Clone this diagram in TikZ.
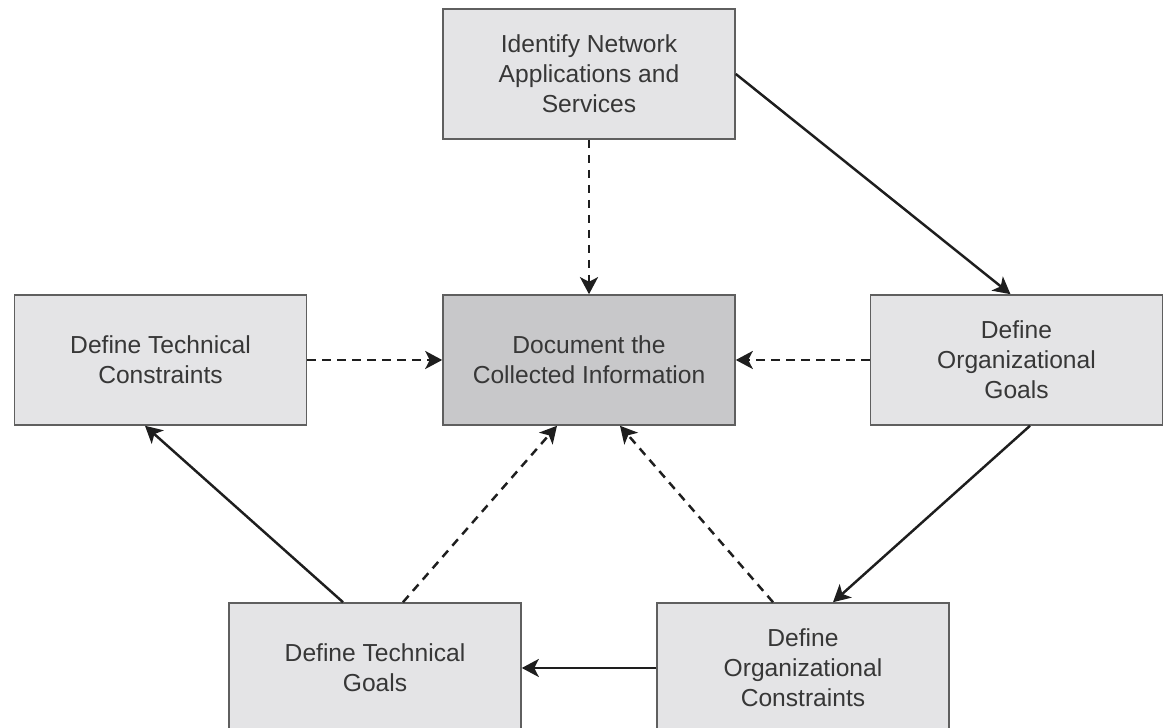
\documentclass[tikz,border=0pt]{standalone}
\usepackage{fontspec}
\setmainfont{Liberation Sans}
\usetikzlibrary{positioning,arrows.meta}

\definecolor{boxfill}{RGB}{228,228,230}
\definecolor{mainfill}{RGB}{200,200,202}
\definecolor{boxline}{RGB}{95,95,95}
\definecolor{textgray}{RGB}{55,55,55}
\definecolor{arrowgray}{RGB}{30,30,30}

\begin{document}
\begin{tikzpicture}[
    every node/.style={font=\fontsize{14}{17}\selectfont, text=textgray},
    stagebox/.style={draw=boxline, line width=0.9pt, fill=boxfill, align=center,
        minimum width=5.84cm, minimum height=2.6cm, inner sep=0pt},
    mainbox/.style={stagebox, fill=mainfill},
    flow/.style={draw=arrowgray, line width=1.4pt, -{Stealth[length=3.4mm, width=3.6mm, inset=0.9mm]}},
    feed/.style={flow, dash pattern=on 0.17cm off 0.13cm}
]
\useasboundingbox (0,0) rectangle (23.26,14.56);

% === Boxes ===
\node[stagebox] (apps) at (11.78,13.08) {Identify Network\\Applications and\\Services};
\node[mainbox] (doc) at (11.78,7.36) {Document the\\Collected Information};
\node[stagebox] (techcon) at (3.21,7.36) {Define Technical\\Constraints};
\node[stagebox] (orggoals) at (20.33,7.36) {Define\\Organizational\\Goals};
\node[stagebox] (techgoals) at (7.5,1.2) {Define Technical\\Goals};
\node[stagebox] (orgcon) at (16.06,1.2) {Define\\Organizational\\Constraints};

% === Solid cycle ===
\draw[flow] (apps.east) -- ([xshift=-0.12cm]orggoals.north);
\draw[flow] ([xshift=0.27cm]orggoals.south) -- ([xshift=0.6cm]orgcon.north);
\draw[flow] (orgcon.west) -- (techgoals.east);
\draw[flow] ([xshift=-0.64cm]techgoals.north) -- ([xshift=-0.31cm]techcon.south);

% === Dashed inputs to the document box ===
\draw[feed] (apps.south) -- (doc.north);
\draw[feed] (techcon.east) -- (doc.west);
\draw[feed] (orggoals.west) -- (doc.east);
\draw[feed] ([xshift=0.56cm]techgoals.north) -- ([xshift=-0.64cm]doc.south);
\draw[feed] ([xshift=-0.6cm]orgcon.north) -- ([xshift=0.62cm]doc.south);

\end{tikzpicture}
\end{document}
